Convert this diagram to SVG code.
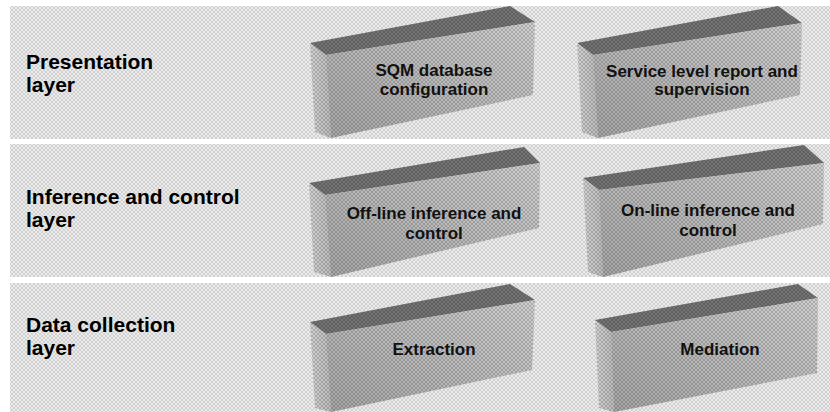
<svg xmlns="http://www.w3.org/2000/svg" width="830" height="412" viewBox="0 0 830 412">
<defs>
<pattern id="hatch" width="4" height="4" patternUnits="userSpaceOnUse">
<path d="M0,0 L4,4 M4,0 L0,4" stroke="#ffffff" stroke-opacity="0.6" stroke-width="1"/>
</pattern>
<pattern id="hatchDark" width="4" height="4" patternUnits="userSpaceOnUse">
<path d="M0,0 L4,4 M4,0 L0,4" stroke="#000000" stroke-opacity="0.18" stroke-width="1"/>
</pattern>
<linearGradient id="frontGrad" x1="0" y1="1" x2="1" y2="0">
<stop offset="0" stop-color="#a6a6a6"/>
<stop offset="1" stop-color="#d0d0d0"/>
</linearGradient>
<linearGradient id="leftGrad" x1="0" y1="0" x2="1" y2="0">
<stop offset="0" stop-color="#d2d2d2"/>
<stop offset="1" stop-color="#bcbcbc"/>
</linearGradient>
</defs>
<style>
.band{fill:#d0d0d0}
.tex{fill:url(#hatch)}
.texd{fill:url(#hatchDark)}
.top{fill:#747474}
.front{fill:url(#frontGrad)}
.left{fill:url(#leftGrad)}
.layer{font-family:"Liberation Sans",Arial,sans-serif;font-weight:bold;font-size:21px;fill:#000}
.lbl{font-family:"Liberation Sans",Arial,sans-serif;font-weight:bold;font-size:17px;fill:#111;text-anchor:middle}
</style>
<rect width="830" height="412" fill="#ffffff"/>
<g id="bands">
<rect class="band" x="10" y="6" width="820" height="133"/>
<rect class="band" x="10" y="144" width="820" height="133"/>
<rect class="band" x="10" y="283" width="820" height="129"/>
<rect class="tex" x="10" y="6" width="820" height="133"/>
<rect class="tex" x="10" y="144" width="820" height="133"/>
<rect class="tex" x="10" y="283" width="820" height="129"/>
</g>
<g id="layer-presentation">
<text class="layer" x="26" y="69">Presentation</text>
<text class="layer" x="26" y="92">layer</text>
</g>
<g id="layer-inference">
<text class="layer" x="26" y="204">Inference and control</text>
<text class="layer" x="26" y="227">layer</text>
</g>
<g id="layer-data">
<text class="layer" x="26" y="332">Data collection</text>
<text class="layer" x="26" y="355">layer</text>
</g>
<g id="box-sqm">
<polygon class="top" points="310,43 510,6 535,22 326,55"/>
<polygon class="left" points="310,43 326,55 331,138 315,132"/>
<polygon class="front" points="326,55 535,22 533,95 331,138"/>
<polygon class="texd" points="310,43 510,6 535,22 533,95 331,138 315,132"/>
<text class="lbl" x="434" y="76">SQM database</text>
<text class="lbl" x="434" y="95">configuration</text>
</g>
<g id="box-service">
<polygon class="top" points="577,43 778,6 802,23 593,55"/>
<polygon class="left" points="577,43 593,55 598,138 582,132"/>
<polygon class="front" points="593,55 802,23 800,95 598,138"/>
<polygon class="texd" points="577,43 778,6 802,23 800,95 598,138 582,132"/>
<text class="lbl" x="702" y="77">Service level report and</text>
<text class="lbl" x="702" y="95">supervision</text>
</g>
<g id="box-offline">
<polygon class="top" points="309,183 524,147 540,163 325,195"/>
<polygon class="left" points="309,183 325,195 331,277 314,272"/>
<polygon class="front" points="325,195 540,163 539,228 331,277"/>
<polygon class="texd" points="309,183 524,147 540,163 539,228 331,277 314,272"/>
<text class="lbl" x="434" y="219">Off-line inference and</text>
<text class="lbl" x="434" y="239">control</text>
</g>
<g id="box-online">
<polygon class="top" points="583,178 804,145 824,163 599,190"/>
<polygon class="left" points="583,178 599,190 603,277 588,272"/>
<polygon class="front" points="599,190 824,163 823,224 603,277"/>
<polygon class="texd" points="583,178 804,145 824,163 823,224 603,277 588,272"/>
<text class="lbl" x="708" y="216">On-line inference and</text>
<text class="lbl" x="708" y="236">control</text>
</g>
<g id="box-extraction">
<polygon class="top" points="310,322 510,284 535,300 326,334"/>
<polygon class="left" points="310,322 326,334 331,412 315,408"/>
<polygon class="front" points="326,334 535,300 532,370 331,412"/>
<polygon class="texd" points="310,322 510,284 535,300 532,370 331,412 315,408"/>
<text class="lbl" x="434" y="355">Extraction</text>
</g>
<g id="box-mediation">
<polygon class="top" points="595,320 798,284 818,298 611,332"/>
<polygon class="left" points="595,320 611,332 614,412 599,408"/>
<polygon class="front" points="611,332 818,298 817,373 614,412"/>
<polygon class="texd" points="595,320 798,284 818,298 817,373 614,412 599,408"/>
<text class="lbl" x="720" y="355">Mediation</text>
</g>
<g id="connectors"/>
</svg>
